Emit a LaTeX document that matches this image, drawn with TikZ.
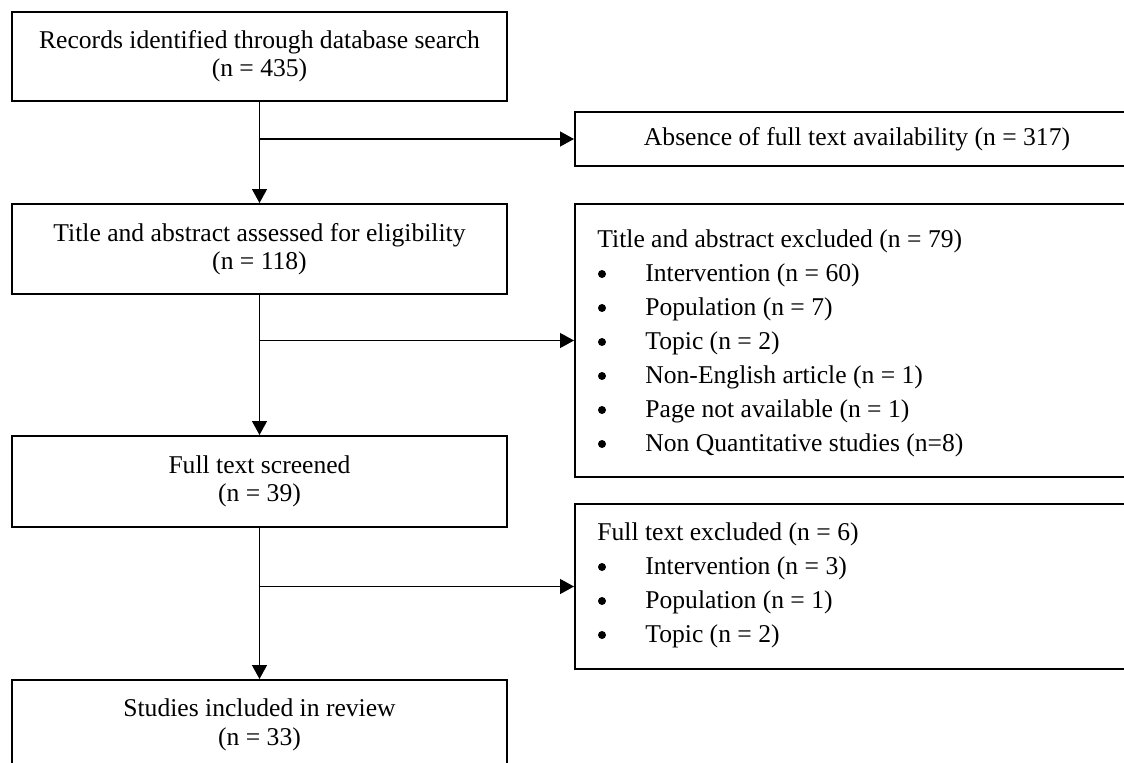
\documentclass[tikz,border=0pt]{standalone}
\usepackage{fontspec}
\setmainfont{Liberation Serif}
\usetikzlibrary{arrows.meta}
\begin{document}
\begin{tikzpicture}[x=0.5pt,y=-0.5pt,
  boite/.style={draw,line width=1pt,minimum width=247.5pt,align=center,font=\fontsize{12.8}{14.2}\selectfont},
  liste/.style={anchor=base west,inner sep=0pt,font=\fontsize{12.8}{14.2}\selectfont},
  puce/.style={circle,fill,inner sep=0pt,minimum size=4pt},
  fleche/.style={line width=0.65pt,-{Triangle[length=7pt,width=7.5pt]}}]
\useasboundingbox (0,0) rectangle (1124,762);
\clip (0,0) rectangle (1124,762);%cadre
% colonne de gauche
\node[boite,minimum height=44.5pt] (rec) at (259.5,56.5) {Records identified through database search\\(n = 435)};
\node[boite,minimum height=45pt] (tit) at (259.5,249) {Title and abstract assessed for eligibility\\(n = 118)};
\node[boite,minimum height=45.5pt] (fts) at (259.5,481.5) {Full text screened\\(n = 39)};
\node[boite,minimum height=45pt] (inc) at (259.5,725) {Studies included in review\\(n = 33)};
% colonne de droite
\node[boite,minimum width=282pt,minimum height=27pt] (abs) at (857,139) {Absence of full text availability (n = 317)};
\node[boite,minimum width=282pt,minimum height=136.5pt] (exa) at (857,340.5) {};
\node[boite,minimum width=282pt,minimum height=82.5pt] (exb) at (857,586.5) {};
\node[liste] (exa0) at (597,247) {Title and abstract excluded (n = 79)};
\foreach \t [count=\i] in {Intervention (n = 60),Population (n = 7),Topic (n = 2),Non-English article (n = 1),Page not available (n = 1),Non Quantitative studies (n=8)}{
  \node[puce] (pa\i) at (602,{240+34*\i}) {};
  \node[liste] (ea\i) at (645,{247+34*\i}) {\t};
}
\node[liste] (exb0) at (597,540) {Full text excluded (n = 6)};
\foreach \t [count=\i] in {Intervention (n = 3),Population (n = 1),Topic (n = 2)}{
  \node[puce] (pb\i) at (602,{533+34*\i}) {};
  \node[liste] (eb\i) at (645,{540+34*\i}) {\t};
}
% fleches
\draw[fleche] (rec) -- (tit);
\draw[fleche] (tit) -- (fts);
\draw[fleche] (fts) -- (inc);
\draw[fleche] (rec.south |- abs.west) -- (abs.west);
\draw[fleche] (tit.south |- exa.west) -- (exa.west);
\draw[fleche] (fts.south |- exb.west) -- (exb.west);
\end{tikzpicture}
\end{document}
